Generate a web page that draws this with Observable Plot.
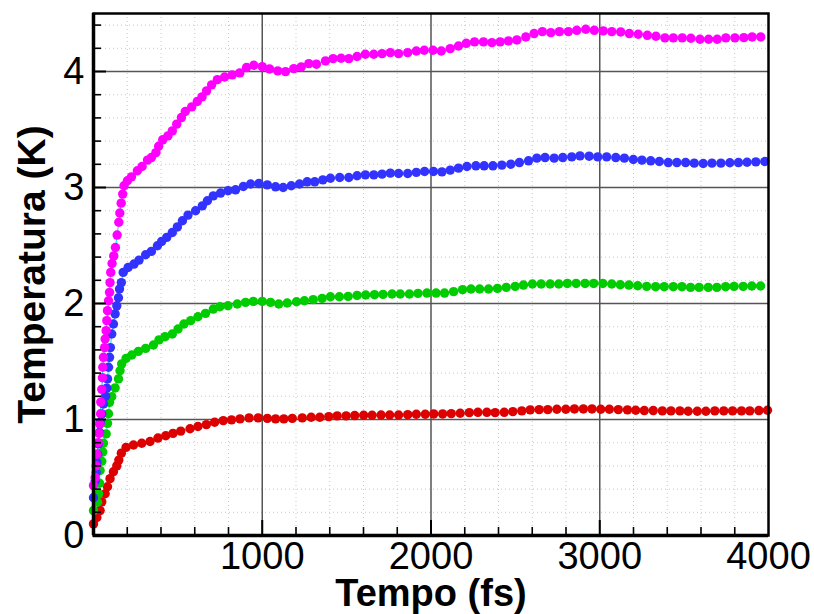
<!DOCTYPE html>
<html>
<head>
<meta charset="utf-8">
<script src="https://cdn.jsdelivr.net/npm/d3@7"></script>
<script src="https://cdn.jsdelivr.net/npm/@observablehq/plot@0.6"></script>
<style>
  html, body { margin: 0; padding: 0; background: white; }
</style>
</head>
<body>
<div id="chart"></div>
<script>
// ---- data (time in fs, temperature in K) ----
const redT = [0,20,39,49,69,83,98,118,138,150,165,193,237,286,335,382,428,471,517,572,619,669,718,769,818,868,922,976,1030,1079,1128,1178,
  1237,1290,1341,1394,1444,1497,1548,1601,1651,1704,1755,1808,1862,1913,1966,2016,2069,2120,2173,2227,2278,2331,2380,2434,2485,2538,2588,2641,2692,2746,2799,2850,2903,2954,3006,3057,3110,3164,3213,3264,3317,3371,3422,3475,3524,3578,3629,3682,3735,3787,3840,3889,3943,3994];
const redK = [0.10,0.155,0.215,0.29,0.36,0.42,0.49,0.55,0.60,0.65,0.71,0.76,0.78,0.795,0.81,0.84,0.86,0.88,0.90,0.92,0.94,0.956,0.976,0.99,0.997,1.005,1.014,1.014,1.01,1.005,1.005,1.01,
  1.014,1.019,1.019,1.025,1.031,1.031,1.034,1.037,1.037,1.039,1.039,1.039,1.042,1.045,1.045,1.048,1.048,1.051,1.054,1.059,1.062,1.062,1.059,1.062,1.068,1.074,1.083,1.085,1.085,1.088,1.088,1.091,1.091,1.091,1.088,1.088,1.085,1.083,1.08,1.077,1.077,1.074,1.074,1.074,1.071,1.071,1.071,1.074,1.074,1.074,1.074,1.074,1.077,1.08];

const greenT = [0,24,30,36,39,49,55,59,75,83,89,95,108,128,148,157,167,193,227,266,309,355,388,424,467,501,536,576,619,664,710,749,797,852,901,947,1000,1049,1098,1148,1203,
  1250,1302,1355,1404,1457,1509,1562,1613,1665,1716,1769,1818,1872,1923,1976,2030,2080,2134,2187,2237,2288,2341,2394,2446,2499,2548,2601,2653,2706,2757,2808,2860,2913,2964,3018,3071,3122,3173,3225,3278,3331,3382,3436,3487,3538,3589,3643,3694,3746,3796,3850,3901,3953];
const greenK = [0.215,0.287,0.359,0.45,0.56,0.64,0.72,0.795,0.876,0.967,1.05,1.148,1.197,1.272,1.35,1.42,1.479,1.527,1.556,1.587,1.613,1.642,1.686,1.714,1.737,1.78,1.823,1.852,1.886,1.915,1.952,1.972,1.981,1.996,2.01,2.018,2.018,2.01,1.996,2.004,2.015,
  2.024,2.033,2.044,2.058,2.058,2.061,2.07,2.073,2.076,2.079,2.082,2.082,2.082,2.087,2.09,2.09,2.09,2.102,2.119,2.125,2.125,2.125,2.13,2.139,2.148,2.159,2.168,2.168,2.168,2.168,2.173,2.173,2.173,2.173,2.173,2.168,2.162,2.159,2.153,2.148,2.145,2.145,2.145,2.145,2.139,2.139,2.139,2.139,2.145,2.148,2.148,2.151,2.151];

const blueT = [0,10,16,20,25,30,36,40,49,59,72,79,83,89,95,100,108,118,128,138,148,154,165,176,205,240,270,309,343,379,404,434,467,497,527,560,605,645,675,710,753,797,842,888,931,980,1030,1079,1124,1172,1221,1266,1311,1359,1404,
  1459,1513,1562,1611,1661,1710,1759,1808,1862,1913,1962,2015,2065,2114,2163,2213,2266,2315,2367,2420,2473,2524,2578,2627,2676,
  2730,2781,2834,2883,2937,2988,3041,3095,3146,3199,3250,3302,3353,3406,3457,3509,3560,3613,3665,3718,3771,3822,3873,3925,3978];
const blueK = [0.325,0.47,0.545,0.63,0.70,0.79,0.89,0.976,1.048,1.134,1.20,1.27,1.35,1.45,1.536,1.62,1.737,1.823,1.91,1.98,2.05,2.125,2.18,2.268,2.31,2.34,2.374,2.42,2.449,2.498,2.535,2.57,2.612,2.66,2.713,2.762,2.8,2.842,2.886,2.928,2.952,2.972,2.98,3.009,3.03,3.034,3.023,3.006,3.0,3.015,3.03,3.049,3.049,3.066,3.08,
  3.086,3.086,3.101,3.109,3.109,3.115,3.124,3.121,3.121,3.13,3.138,3.138,3.135,3.15,3.167,3.181,3.187,3.187,3.187,3.193,3.201,3.215,3.23,3.253,3.258,
  3.253,3.258,3.264,3.273,3.27,3.264,3.264,3.258,3.253,3.241,3.236,3.23,3.224,3.215,3.215,3.215,3.21,3.207,3.21,3.21,3.213,3.215,3.218,3.221,3.224];

const magT = [0,10,16,20,28,34,38,42,43,49,53,55,59,66,69,75,79,83,89,95,98,102,110,120,130,140,150,156,164,173,181,201,225,260,288,320,343,370,386,410,441,467,493,521,544,582,615,643,670,700,734,777,822,867,907,950,1000,1043,1092,1138,
  1187,1231,1276,1321,1375,1420,1467,1513,1562,1611,1661,1710,1759,1808,1862,1913,1960,2012,2061,2114,2163,2209,2258,2311,2361,2410,2459,2509,2562,2611,
  2660,2710,2761,2814,2864,2917,2968,3021,3071,3124,3175,3228,3282,3333,3386,3436,3489,3540,3594,3645,3696,3747,3801,3854,3903,3954];
const magK = [0.43,0.50,0.60,0.70,0.80,0.88,0.96,1.05,1.15,1.26,1.36,1.45,1.536,1.62,1.694,1.766,1.852,1.938,2.024,2.096,2.18,2.268,2.345,2.41,2.483,2.59,2.70,2.78,2.865,2.943,3.015,3.058,3.092,3.144,3.181,3.236,3.258,3.301,3.356,3.411,3.445,3.488,3.546,3.603,3.655,3.695,3.741,3.781,3.833,3.885,3.93,3.953,3.971,3.988,4.034,4.054,4.042,4.022,4.005,3.999,
  4.025,4.04,4.068,4.063,4.091,4.111,4.114,4.111,4.129,4.149,4.149,4.154,4.163,4.154,4.163,4.177,4.183,4.183,4.177,4.197,4.22,4.243,4.255,4.255,4.249,4.255,4.264,4.272,4.298,4.327,
  4.344,4.335,4.344,4.344,4.355,4.364,4.355,4.35,4.344,4.341,4.327,4.321,4.312,4.304,4.29,4.29,4.29,4.287,4.278,4.278,4.278,4.29,4.29,4.292,4.298,4.298];

const seriesNames = ["serie 1", "serie 2", "serie 3", "serie 4"];
const seriesColors = ["#dd0000", "#00cc00", "#3333ff", "#ff00ff"];

const xTickLabels = [1000, 2000, 3000, 4000];
const yTickLabels = [0, 1, 2, 3, 4];
const xMajor = [1000, 2000, 3000];
const yMajor = [1, 2, 3, 4];
const xMinor = [200,400,600,800,1200,1400,1600,1800,2200,2400,2600,2800,3200,3400,3600,3800];
const yMinor = [0.2,0.4,0.6,0.8,1.2,1.4,1.6,1.8,2.2,2.4,2.6,2.8,3.2,3.4,3.6,3.8,4.2,4.4];
const xTitle = "Tempo (fs)";
const yTitle = "Temperatura (K)";

// ---- build table ----
function zip(T, K, s) {
  const n = Math.min(T.length, K.length);
  return d3.range(n).map(i => ({t: T[i], k: K[i], s}));
}
const data = [
  ...zip(redT, redK, seriesNames[0]),
  ...zip(greenT, greenK, seriesNames[1]),
  ...zip(blueT, blueK, seriesNames[2]),
  ...zip(magT, magK, seriesNames[3])
];

const W = 814, H = 614, mL = 93, mR = 46, mT = 13, mB = 79;
const fw = W - mL - mR, fh = H - mT - mB;
const font = "'Liberation Sans', Arial, Helvetica, sans-serif";

const chart = Plot.plot({
  width: W, height: H,
  marginLeft: mL, marginRight: mR, marginTop: mT, marginBottom: mB,
  x: {domain: [0, 4000], axis: null},
  y: {domain: [0, 4.5], axis: null},
  color: {type: "categorical", domain: seriesNames, range: seriesColors},
  style: {fontFamily: font, background: "white", color: "black"},
  marks: [
    // minor dotted grid
    Plot.ruleX(xMinor, {stroke: "#bbbbbb", strokeWidth: 0.8, strokeDasharray: "1,3"}),
    Plot.ruleY(yMinor, {stroke: "#bbbbbb", strokeWidth: 0.8, strokeDasharray: "1,3"}),
    // major grid
    Plot.ruleX(xMajor, {stroke: "#555555", strokeWidth: 1.5}),
    Plot.ruleY(yMajor, {stroke: "#555555", strokeWidth: 1.5}),
    // thin cyan connecting lines
    Plot.line(data, {x: "t", y: "k", z: "s", stroke: "#00e0ee", strokeWidth: 1}),
    // symbols
    Plot.dot(data, {x: "t", y: "k", fill: "s", r: 4.7, stroke: null}),
    // inward ticks
    Plot.ruleX(xMinor, {insetTop: fh - 8, stroke: "black", strokeWidth: 1.6}),
    Plot.ruleX(xMajor, {insetTop: fh - 15, stroke: "black", strokeWidth: 2}),
    Plot.ruleY(yMinor, {insetRight: fw - 8, stroke: "black", strokeWidth: 1.6}),
    Plot.ruleY(yMajor, {insetRight: fw - 13, stroke: "black", strokeWidth: 2}),
    // frame
    Plot.frame({stroke: "black", strokeWidth: 2.5}),
    Plot.ruleX([0], {stroke: "black", strokeWidth: 3.5}),
    Plot.ruleY([0], {stroke: "black", strokeWidth: 3.5}),
    // tick labels
    Plot.text(xTickLabels, {x: d => d, text: d => String(d), frameAnchor: "bottom", lineAnchor: "top", textAnchor: "middle", dy: 7, fontSize: 38, fill: "black"}),
    Plot.text(yTickLabels, {y: d => d, text: d => String(d), frameAnchor: "left", textAnchor: "end", lineAnchor: "middle", dx: -9, fontSize: 38, fill: "black"}),
    // axis titles
    Plot.text([xTitle], {text: d => d, frameAnchor: "bottom", lineAnchor: "top", textAnchor: "middle", dy: 44, fontSize: 38, fontWeight: "bold", fill: "black"}),
    Plot.text([yTitle], {text: d => d, frameAnchor: "left", rotate: -90, lineAnchor: "top", textAnchor: "middle", dx: -76, fontSize: 39, fontWeight: "bold", fill: "black"})
  ]
});
document.getElementById("chart").appendChild(chart);
</script>
</body>
</html>
